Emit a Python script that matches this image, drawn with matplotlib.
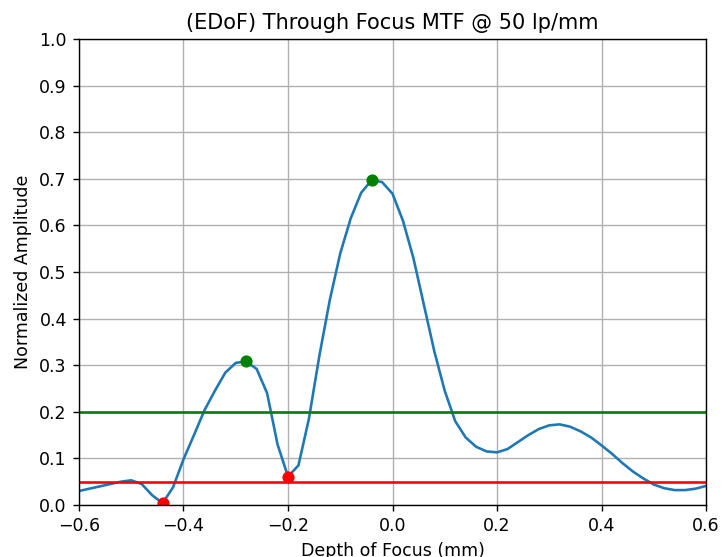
import numpy as np
import matplotlib
matplotlib.use("Agg")
import matplotlib.pyplot as plt

depth = np.round(np.arange(-0.6, 0.6001, 0.02), 2)
mtf = [0.030, 0.035, 0.040, 0.045, 0.050, 0.053, 0.045, 0.021, 0.004, 0.038,
       0.098, 0.150, 0.203, 0.245, 0.284, 0.305, 0.308, 0.292, 0.240, 0.130,
       0.061, 0.085, 0.185, 0.320, 0.440, 0.540, 0.615, 0.670, 0.697, 0.693,
       0.668, 0.610, 0.530, 0.430, 0.330, 0.245, 0.180, 0.145, 0.125, 0.115,
       0.113, 0.120, 0.135, 0.150, 0.163, 0.171, 0.173, 0.168, 0.158, 0.145,
       0.128, 0.110, 0.090, 0.072, 0.057, 0.044, 0.036, 0.032, 0.032, 0.035,
       0.041]

peak_x = [-0.28, -0.04]
peak_y = [0.308, 0.697]
valley_x = [-0.44, -0.20]
valley_y = [0.004, 0.061]
upper_thr = 0.2
lower_thr = 0.05

DPI = 125
fig = plt.figure(figsize=(722/DPI, 557/DPI), dpi=DPI)
ax = fig.add_axes([79/722, 52/557, 627/722, 466/557])
ax.plot(depth, mtf)
ax.axhline(upper_thr, color='g')
ax.axhline(lower_thr, color='r')
ax.plot(peak_x, peak_y, 'go')
ax.plot(valley_x, valley_y, 'ro')
ax.set_xlim(-0.6, 0.6)
ax.set_ylim(0, 1.0)
ax.set_yticks(np.arange(0, 1.01, 0.1))
ax.grid(True)
ax.set_title("(EDoF) Through Focus MTF @ 50 lp/mm")
ax.set_xlabel("Depth of Focus (mm)")
ax.set_ylabel("Normalized Amplitude")
fig.savefig("out.png", dpi=DPI)
